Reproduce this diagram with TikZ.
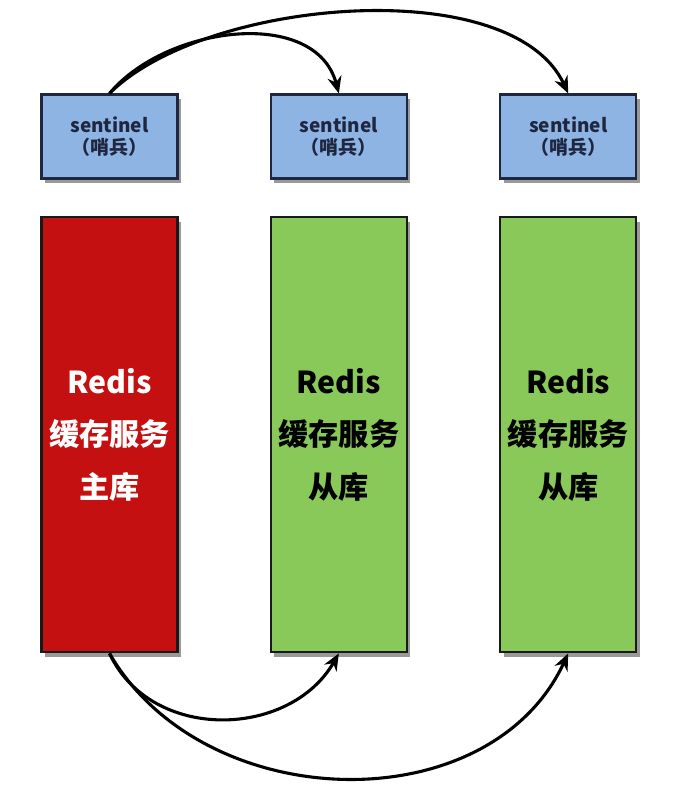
\documentclass[tikz,border=0pt]{standalone}
\usepackage{fontspec}
\newfontfamily\cjk{Noto Sans CJK SC}
\usetikzlibrary{arrows.meta, positioning, shadows}
\definecolor{sentblue}{RGB}{141,180,226}
\definecolor{masterred}{RGB}{196,16,16}
\definecolor{slavegreen}{RGB}{137,201,90}
\definecolor{navyline}{RGB}{30,38,64}

\begin{document}
\begin{tikzpicture}[x=0.025cm, y=-0.025cm, node distance=2.28cm,
    boxshadow/.style={drop shadow={shadow xshift=2.5pt, shadow yshift=-3pt, opacity=0.4, fill=black}},
    sentbox/.style={draw=navyline, line width=1.5pt, fill=sentblue, minimum width=3.4cm, minimum height=2.1cm, align=center, text=navyline, font=\cjk\bfseries\fontsize{13.5}{15.5}\selectfont, boxshadow},
    redisbox/.style={draw=black!90, line width=1.5pt, minimum width=3.4cm, minimum height=10.87cm, align=center, text=white, font=\cjk\bfseries\fontsize{21.5}{37}\selectfont, boxshadow},
    link/.style={-{Stealth[length=12pt, width=10pt]}, line width=2.2pt}]
    \useasboundingbox (0,0) rectangle (691,798);

    % Sentinels
    \node[sentbox] (sen1) at (109.5,136.5) {sentinel\\（哨兵）};
    \node[sentbox, right=of sen1] (sen2) {sentinel\\（哨兵）};
    \node[sentbox, right=of sen2] (sen3) {sentinel\\（哨兵）};

    % Redis master and slaves
    \node[redisbox, fill=masterred, below=0.92cm of sen1] (master) {Redis\\缓存服务\\主库};
    \node[redisbox, fill=slavegreen, text=black, below=0.92cm of sen2] (slave1) {Redis\\缓存服务\\从库};
    \node[redisbox, fill=slavegreen, text=black, below=0.92cm of sen3] (slave2) {Redis\\缓存服务\\从库};

    % Arrows
    \draw[link] (sen1.north) to[out=50, in=105] (sen2.north);
    \draw[link] (sen1.north) to[out=45, in=115, looseness=0.75] (sen3.north);
    \draw[link] (master.south) to[out=-65, in=-120, looseness=1.1] (slave1.south);
    \draw[link] (master.south) to[out=-60, in=-115, looseness=1.05] (slave2.south);
\end{tikzpicture}
\end{document}
